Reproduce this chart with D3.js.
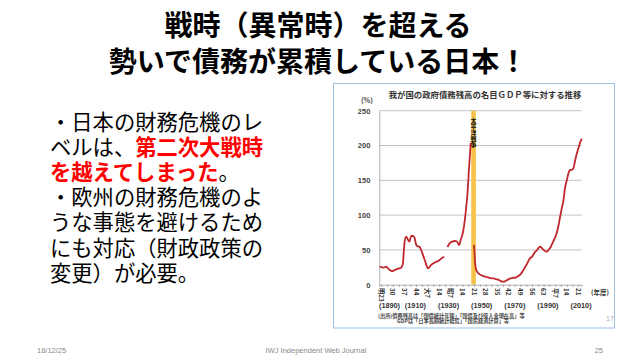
<!DOCTYPE html>
<html><head><meta charset="utf-8">
<script src="https://cdn.jsdelivr.net/npm/d3@7/dist/d3.min.js"></script>
<style>
html,body{margin:0;padding:0;background:#fff;}
svg{display:block;}
</style></head>
<body>
<script>
// ---- data ----
const years = [1889,1890,1891,1892,1893,1894,1895,1896,1897,1898,1899,1900,1901,1902,1903,1904,1905,1906,1907,1908,1909,1910,
 1911,1912,1913,1914,1915,1916,1917,1918,1919,1920,1921,1922,1923,1924,1925,1926,1927,1928,1929,1930,
 1931,1932,1933,1934,1935,1936,1937,1938,1939,1940,1941,1942,1943,1944,1945,1946,1947,1948,1949,1950,
 1951,1952,1953,1954,1955,1956,1957,1958,1959,1960,1961,1962,1963,1964,1965,1966,1967,1968,1969,1970,
 1971,1972,1973,1974,1975,1976,1977,1978,1979,1980,1981,1982,1983,1984,1985,1986,1987,1988,1989,1990,
 1991,1992,1993,1994,1995,1996,1997,1998,1999,2000,2001,2002,2003,2004,2005,2006,2007,2008,2009,2010,2011];
const debtRatio = [26,25.5,24.5,25,26,23.5,21.5,20,19.7,21,22,23,23.5,24.5,30,60,69,65,62,70,70,68,
 58,55,54.6,50,44,37,30,23.5,25,28,30,31.5,33,33.5,35,37,39,40,null,54,
 59,61,62,62.8,62.5,61,57,65,72,85,105,130,168,204,null,57,24,18,15.5,14,
 13,12,11.5,11,10,9.5,9,9,8,7.5,6.7,5.5,4.5,4.3,5.5,6.7,8,9,9.5,10,
 10,11.5,13,15,18,22,26,30,35,38.5,40,44,47.4,49.5,53,54.6,52.5,50,48,47.4,
 50,53,58,63,68,75,85,98,110,122,140,150,160,165,165,167,178,188,196,204,210];
const yTicks = [0,50,100,150,200,250];
const eraTickYears = [1890,1897,1904,1911,1918,1925,1932,1939,1946,1953,1960,1967,1974,1981,1988,1995,2002,2009];
const eraTickLabels = ["明23","30","37","44","大7","14","昭7","14","21","28","35","42","49","56","63","平7","14","21"];
const decadeYears = [1890,1910,1930,1950,1970,1990,2010];
const decadeLabels = ["(1890)","(1910)","(1930)","(1950)","(1970)","(1990)","(2010)"];
const warBand = [1944.3, 1947.1];
const warLabel = "太平洋戦争";
const titleLines = ["戦時（異常時）を超える","勢いで債務が累積している日本！"];
const chartTitle = "我が国の政府債務残高の名目ＧＤＰ等に対する推移";
const sourceLines = ["(出所)債務残高は「国債統計年報」「国債及び借入金現在高」等","GDPは「日本長期統計総覧」「国民経済計算」等"];
const bodyLines = [
  [["・日本の財務危機のレ",false]],
  [["ベルは、",false],["第二次大戦時",true]],
  [["を越えてしまった",true],["。",false]],
  [["・欧州の財務危機のよ",false]],
  [["うな事態を避けるため",false]],
  [["にも対応（財政政策の",false]],
  [["変更）が必要。",false]]
];
const footer = {date:"18/12/25", center:"IWJ  Independent Web Journal", page:"25"};

// ---- drawing ----
const W=640,H=360;
const svg=d3.select("body").append("svg").attr("width",W).attr("height",H);
svg.append("rect").attr("width",W).attr("height",H).attr("fill","#fff");
const JP='"Noto Sans CJK JP","Noto Sans",sans-serif';

// title (single text block)
svg.append("text").attr("text-anchor","middle").attr("font-family",JP).attr("font-weight","bold")
  .attr("font-size",28).attr("fill","#000")
  .selectAll("tspan").data(titleLines).enter().append("tspan")
  .attr("x",318).attr("y",(d,i)=>35.5+i*36.5).text(d=>d);

// body text (single text block, one tspan per line)
const body=svg.append("text").attr("font-family",JP).attr("font-size",21.3).attr("fill","#000");
const lines=body.selectAll("tspan.line").data(bodyLines).enter().append("tspan")
  .attr("class","line").attr("x",50).attr("y",(d,i)=>129.5+i*25.2);
lines.selectAll("tspan.seg").data(d=>d).enter().append("tspan").attr("class","seg")
  .attr("fill",d=>d[1]?"#ff0000":"#000").attr("font-weight",d=>d[1]?"bold":"normal")
  .text(d=>d[0]);

// chart frame
svg.append("rect").attr("x",333.5).attr("y",83.5).attr("width",281).attr("height",244.5)
  .attr("fill","#fff").attr("stroke","#9dbfe3").attr("stroke-width",1);

const x=d3.scaleLinear().domain([1888.8,2011]).range([379.3,581.7]);
const y=d3.scaleLinear().domain([0,250]).range([284.7,110.7]);

// chart title
svg.append("text").attr("x",485).attr("y",98).attr("text-anchor","middle")
  .attr("font-family",JP).attr("font-weight","bold").attr("font-size",8.4).attr("fill","#333").text(chartTitle);

// grid
svg.append("g").selectAll("line").data(yTicks.filter(v=>v>0)).enter().append("line")
  .attr("x1",x.range()[0]).attr("x2",x.range()[1]).attr("y1",d=>y(d)).attr("y2",d=>y(d))
  .attr("stroke","#c4c4c4").attr("stroke-width",1);
// y axis
const ya=svg.append("g").attr("transform",`translate(${x.range()[0]},0)`)
  .call(d3.axisLeft(y).tickValues(yTicks).tickSize(0).tickPadding(9));
ya.select(".domain").attr("stroke","#b0b0b0");
ya.selectAll("text").attr("font-family","Liberation Sans, Arial, sans-serif").attr("font-weight","bold")
  .attr("font-size",7.5).attr("fill","#444");
svg.append("text").attr("x",367).attr("y",103).attr("text-anchor","middle")
  .attr("font-family",JP).attr("font-weight","bold").attr("font-size",7).attr("fill","#444").text("(%)");

// war band
svg.append("rect").attr("x",x(warBand[0])).attr("y",y(250)).attr("width",x(warBand[1])-x(warBand[0]))
  .attr("height",y(0)-y(250)).attr("fill","#f6c24a");

// x axis
const minorTicks=d3.range(1890,2011,3.5);
const xa=svg.append("g").attr("transform",`translate(0,${y(0)})`)
  .call(d3.axisBottom(x).tickValues(minorTicks).tickSize(2).tickFormat(""));
xa.select(".domain").attr("stroke","#b0b0b0");
xa.selectAll(".tick line").attr("stroke","#999");
svg.append("g").selectAll("text").data(eraTickYears).enter().append("text")
  .attr("transform",(d)=>`translate(${x(d)-2.5},288) rotate(90)`)
  .attr("font-family",JP).attr("font-weight","bold").attr("font-size",6.3).attr("fill","#333")
  .text((d,i)=>eraTickLabels[i]);
svg.append("text").attr("x",600).attr("y",294.5).attr("text-anchor","middle")
  .attr("font-family",JP).attr("font-weight","bold").attr("font-size",6.5).attr("fill","#333").text("(年度)");
svg.append("g").selectAll("text").data(decadeYears).enter().append("text")
  .attr("x",d=>Math.max(x(d)+1,389.5)).attr("y",308).attr("text-anchor","middle")
  .attr("font-family","Liberation Sans, Arial, sans-serif").attr("font-weight","bold")
  .attr("font-size",7.3).attr("fill","#333").text((d,i)=>decadeLabels[i]);
svg.append("text").attr("font-family",JP).attr("font-weight","bold").attr("font-size",5.2).attr("fill","#444")
  .selectAll("tspan").data(sourceLines).enter().append("tspan")
  .attr("x",(d,i)=>i===0?378:397).attr("y",(d,i)=>317.6+i*5).text(d=>d);
svg.append("text").attr("x",606).attr("y",320.5).attr("font-family","Liberation Sans, Arial, sans-serif")
  .attr("font-size",7).attr("fill","#aaa").text("17");

// line
const pts=years.map((yr,i)=>({yr,v:debtRatio[i]}));
const line=d3.line().defined(d=>d.v!==null).x(d=>x(d.yr)).y(d=>y(d.v)).curve(d3.curveMonotoneX);
svg.append("path").datum(pts).attr("d",line).attr("fill","none")
  .attr("stroke","#c0272d").attr("stroke-width",1.8).attr("stroke-linejoin","round");

// war label (vertical)
const wc=(x(warBand[0])+x(warBand[1]))/2;
svg.append("text").attr("x",wc).attr("y",118)
  .attr("writing-mode","tb").style("writing-mode","vertical-rl")
  .attr("font-family",JP).attr("font-weight","bold").attr("font-size",6).attr("fill","#111").text(warLabel);

// footer
const FF="Liberation Sans, Arial, sans-serif";
svg.append("text").attr("x",37).attr("y",352.5).attr("font-family",FF).attr("font-size",7.5).attr("fill","#8a8a8a").text(footer.date);
svg.append("text").attr("x",316).attr("y",352.5).attr("text-anchor","middle").attr("font-family",FF).attr("font-size",7.5).attr("fill","#8a8a8a").text(footer.center);
svg.append("text").attr("x",603).attr("y",352.5).attr("text-anchor","end").attr("font-family",FF).attr("font-size",7.5).attr("fill","#8a8a8a").text(footer.page);
</script>
</body></html>
